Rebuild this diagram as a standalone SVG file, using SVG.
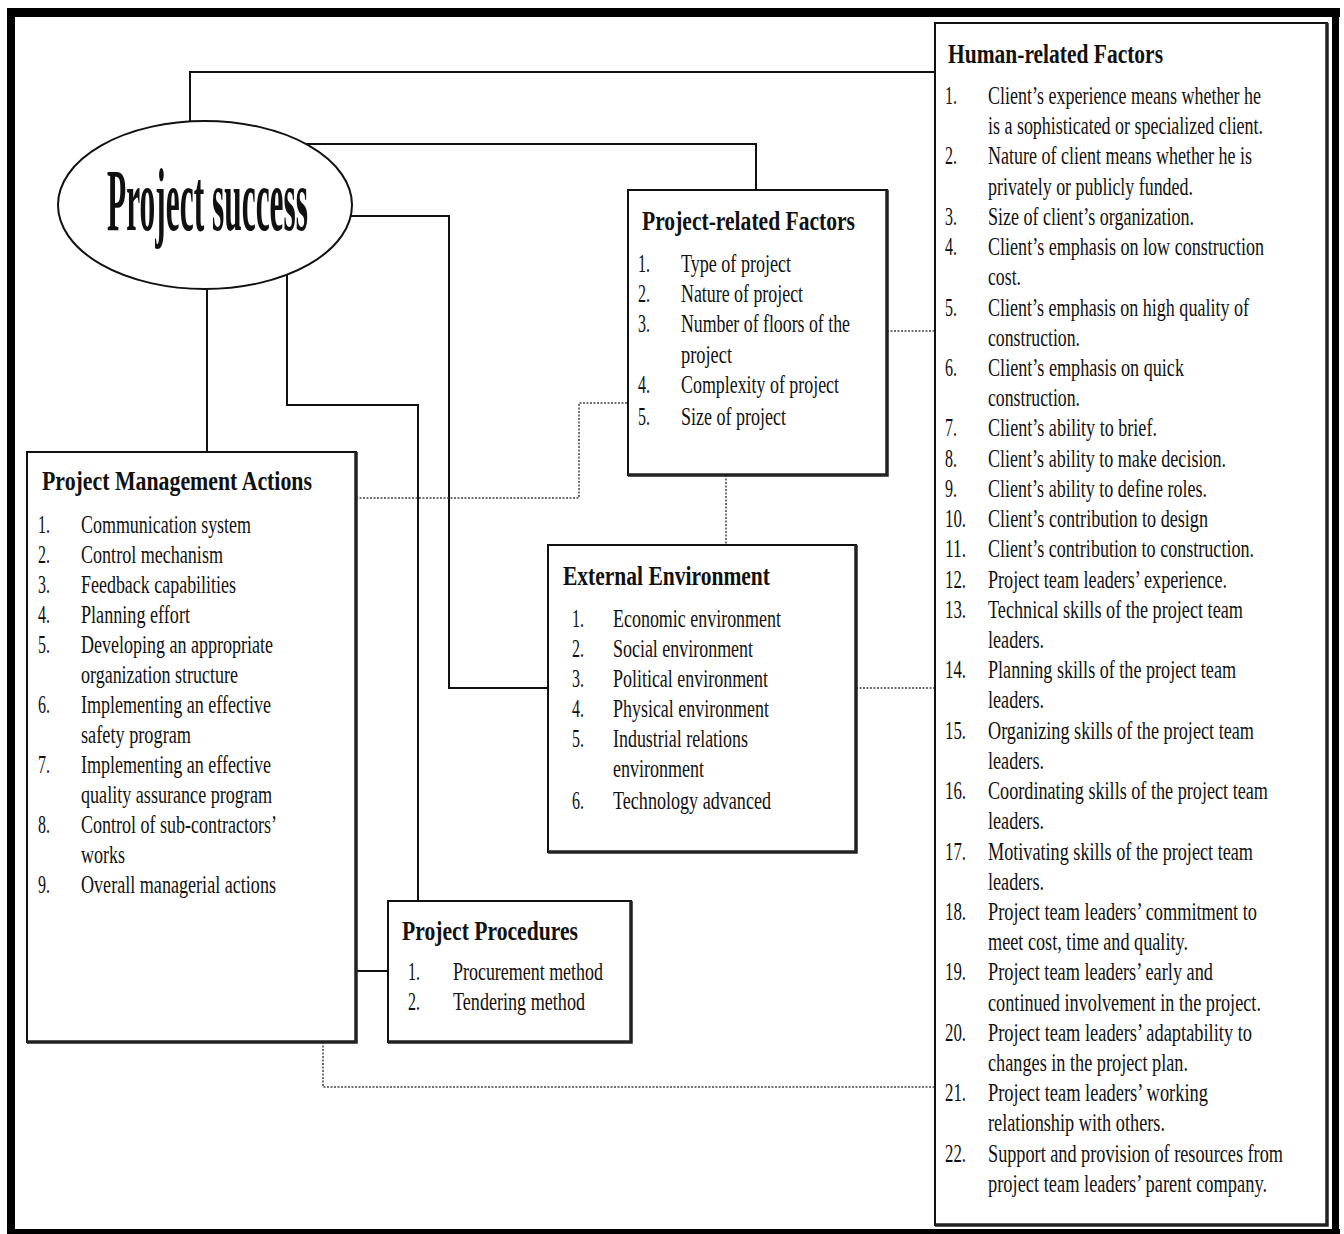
<svg xmlns="http://www.w3.org/2000/svg" width="1344" height="1234" viewBox="0 0 1344 1234">
<style>
.t{font-family:"Liberation Serif","Times New Roman",serif;font-size:25px;fill:#111}
.h{font-weight:bold;font-size:27px}
.box{fill:#fff;stroke:#111;stroke-width:2}
.sh{fill:none;stroke:#222;stroke-width:3.5}
.conn{fill:none;stroke:#111;stroke-width:2}
.dot{fill:none;stroke:#444;stroke-width:1.5;stroke-dasharray:2 1.5}
.frame{fill:#000}
</style>
<rect width="1344" height="1234" fill="#fff"/>
<g id="frame">
<rect class="frame" x="7" y="8" width="1333" height="9"/>
<rect class="frame" x="7" y="8" width="8" height="1226"/>
<rect class="frame" x="1332" y="8" width="7" height="1226"/>
<rect class="frame" x="7" y="1229" width="1333" height="5"/>
</g>
<g id="connectors">
<polyline class="conn" points="190,121 190,72 935,72"/>
<polyline class="conn" points="305,144 756,144 756,190"/>
<polyline class="conn" points="350,216 449,216 449,688 548,688"/>
<polyline class="conn" points="287,275 287,405 418,405 418,901"/>
<line class="conn" x1="207" y1="289" x2="207" y2="452"/>
<line class="conn" x1="356" y1="971" x2="388" y2="971"/>
<polyline class="dot" points="356,498 579,498 579,403 628,403"/>
<line class="dot" x1="726" y1="475" x2="726" y2="545"/>
<line class="dot" x1="887" y1="331" x2="935" y2="331"/>
<line class="dot" x1="856" y1="688" x2="935" y2="688"/>
<polyline class="dot" points="323,1042 323,1087 935,1087"/>
</g>
<g id="project-success">
<ellipse cx="205" cy="205" rx="147" ry="84" fill="#fff" stroke="#111" stroke-width="2"/>
<g transform="translate(107 0) scale(0.4 1)">
<text class="t h" x="0" y="230" style="font-size:88px" textLength="502.5" lengthAdjust="spacingAndGlyphs">Project success</text>
</g>
</g>
<g id="human-related-factors">
<rect class="box" x="935" y="23" width="392" height="1202"/>
<path class="sh" d="M935,1225 H1327 V23"/>
<g transform="translate(948 0) scale(0.8 1)">
<text class="t h" x="0" y="63" textLength="268.75" lengthAdjust="spacingAndGlyphs">Human-related Factors</text>
</g>
<g class="t" transform="translate(945 0) scale(0.75 1)">
<text x="0" y="104" textLength="16" lengthAdjust="spacingAndGlyphs">1.</text><text x="57.33" y="104" textLength="364" lengthAdjust="spacingAndGlyphs">Client’s experience means whether he</text>
<text x="57.33" y="134" textLength="366.7" lengthAdjust="spacingAndGlyphs">is a sophisticated or specialized client.</text>
<text x="0" y="164" textLength="16" lengthAdjust="spacingAndGlyphs">2.</text><text x="57.33" y="164" textLength="352" lengthAdjust="spacingAndGlyphs">Nature of client means whether he is</text>
<text x="57.33" y="195" textLength="273.3" lengthAdjust="spacingAndGlyphs">privately or publicly funded.</text>
<text x="0" y="225" textLength="16" lengthAdjust="spacingAndGlyphs">3.</text><text x="57.33" y="225" textLength="274.7" lengthAdjust="spacingAndGlyphs">Size of client’s organization.</text>
<text x="0" y="255" textLength="16" lengthAdjust="spacingAndGlyphs">4.</text><text x="57.33" y="255" textLength="368" lengthAdjust="spacingAndGlyphs">Client’s emphasis on low construction</text>
<text x="57.33" y="285" textLength="44" lengthAdjust="spacingAndGlyphs">cost.</text>
<text x="0" y="316" textLength="16" lengthAdjust="spacingAndGlyphs">5.</text><text x="57.33" y="316" textLength="348" lengthAdjust="spacingAndGlyphs">Client’s emphasis on high quality of</text>
<text x="57.33" y="346" textLength="122.7" lengthAdjust="spacingAndGlyphs">construction.</text>
<text x="0" y="376" textLength="16" lengthAdjust="spacingAndGlyphs">6.</text><text x="57.33" y="376" textLength="261.3" lengthAdjust="spacingAndGlyphs">Client’s emphasis on quick</text>
<text x="57.33" y="406" textLength="122.7" lengthAdjust="spacingAndGlyphs">construction.</text>
<text x="0" y="436" textLength="16" lengthAdjust="spacingAndGlyphs">7.</text><text x="57.33" y="436" textLength="225.3" lengthAdjust="spacingAndGlyphs">Client’s ability to brief.</text>
<text x="0" y="467" textLength="16" lengthAdjust="spacingAndGlyphs">8.</text><text x="57.33" y="467" textLength="317.3" lengthAdjust="spacingAndGlyphs">Client’s ability to make decision.</text>
<text x="0" y="497" textLength="16" lengthAdjust="spacingAndGlyphs">9.</text><text x="57.33" y="497" textLength="292" lengthAdjust="spacingAndGlyphs">Client’s ability to define roles.</text>
<text x="0" y="527" textLength="28" lengthAdjust="spacingAndGlyphs">10.</text><text x="57.33" y="527" textLength="293.3" lengthAdjust="spacingAndGlyphs">Client’s contribution to design</text>
<text x="0" y="557" textLength="28" lengthAdjust="spacingAndGlyphs">11.</text><text x="57.33" y="557" textLength="354.7" lengthAdjust="spacingAndGlyphs">Client’s contribution to construction.</text>
<text x="0" y="588" textLength="28" lengthAdjust="spacingAndGlyphs">12.</text><text x="57.33" y="588" textLength="318.7" lengthAdjust="spacingAndGlyphs">Project team leaders’ experience.</text>
<text x="0" y="618" textLength="28" lengthAdjust="spacingAndGlyphs">13.</text><text x="57.33" y="618" textLength="340" lengthAdjust="spacingAndGlyphs">Technical skills of the project team</text>
<text x="57.33" y="648" textLength="74.7" lengthAdjust="spacingAndGlyphs">leaders.</text>
<text x="0" y="678" textLength="28" lengthAdjust="spacingAndGlyphs">14.</text><text x="57.33" y="678" textLength="330.7" lengthAdjust="spacingAndGlyphs">Planning skills of the project team</text>
<text x="57.33" y="708" textLength="74.7" lengthAdjust="spacingAndGlyphs">leaders.</text>
<text x="0" y="739" textLength="28" lengthAdjust="spacingAndGlyphs">15.</text><text x="57.33" y="739" textLength="354.7" lengthAdjust="spacingAndGlyphs">Organizing skills of the project team</text>
<text x="57.33" y="769" textLength="74.7" lengthAdjust="spacingAndGlyphs">leaders.</text>
<text x="0" y="799" textLength="28" lengthAdjust="spacingAndGlyphs">16.</text><text x="57.33" y="799" textLength="373.3" lengthAdjust="spacingAndGlyphs">Coordinating skills of the project team</text>
<text x="57.33" y="829" textLength="74.7" lengthAdjust="spacingAndGlyphs">leaders.</text>
<text x="0" y="860" textLength="28" lengthAdjust="spacingAndGlyphs">17.</text><text x="57.33" y="860" textLength="353.3" lengthAdjust="spacingAndGlyphs">Motivating skills of the project team</text>
<text x="57.33" y="890" textLength="74.7" lengthAdjust="spacingAndGlyphs">leaders.</text>
<text x="0" y="920" textLength="28" lengthAdjust="spacingAndGlyphs">18.</text><text x="57.33" y="920" textLength="358.7" lengthAdjust="spacingAndGlyphs">Project team leaders’ commitment to</text>
<text x="57.33" y="950" textLength="266.7" lengthAdjust="spacingAndGlyphs">meet cost, time and quality.</text>
<text x="0" y="980" textLength="28" lengthAdjust="spacingAndGlyphs">19.</text><text x="57.33" y="980" textLength="300" lengthAdjust="spacingAndGlyphs">Project team leaders’ early and</text>
<text x="57.33" y="1011" textLength="364" lengthAdjust="spacingAndGlyphs">continued involvement in the project.</text>
<text x="0" y="1041" textLength="28" lengthAdjust="spacingAndGlyphs">20.</text><text x="57.33" y="1041" textLength="352" lengthAdjust="spacingAndGlyphs">Project team leaders’ adaptability to</text>
<text x="57.33" y="1071" textLength="266.7" lengthAdjust="spacingAndGlyphs">changes in the project plan.</text>
<text x="0" y="1101" textLength="28" lengthAdjust="spacingAndGlyphs">21.</text><text x="57.33" y="1101" textLength="293.3" lengthAdjust="spacingAndGlyphs">Project team leaders’ working</text>
<text x="57.33" y="1131" textLength="236" lengthAdjust="spacingAndGlyphs">relationship with others.</text>
<text x="0" y="1162" textLength="28" lengthAdjust="spacingAndGlyphs">22.</text><text x="57.33" y="1162" textLength="393.3" lengthAdjust="spacingAndGlyphs">Support and provision of resources from</text>
<text x="57.33" y="1192" textLength="372" lengthAdjust="spacingAndGlyphs">project team leaders’ parent company.</text>
</g>
</g>
<g id="project-related-factors">
<rect class="box" x="628" y="190" width="259" height="285"/>
<path class="sh" d="M628,475 H887 V190"/>
<g transform="translate(642 0) scale(0.8 1)">
<text class="t h" x="0" y="230" textLength="266.25" lengthAdjust="spacingAndGlyphs">Project-related Factors</text>
</g>
<g class="t" transform="translate(638 0) scale(0.75 1)">
<text x="0" y="272" textLength="16" lengthAdjust="spacingAndGlyphs">1.</text><text x="57.33" y="272" textLength="146.7" lengthAdjust="spacingAndGlyphs">Type of project</text>
<text x="0" y="302" textLength="16" lengthAdjust="spacingAndGlyphs">2.</text><text x="57.33" y="302" textLength="162.7" lengthAdjust="spacingAndGlyphs">Nature of project</text>
<text x="0" y="332" textLength="16" lengthAdjust="spacingAndGlyphs">3.</text><text x="57.33" y="332" textLength="225.3" lengthAdjust="spacingAndGlyphs">Number of floors of the</text>
<text x="57.33" y="363" textLength="68" lengthAdjust="spacingAndGlyphs">project</text>
<text x="0" y="393" textLength="16" lengthAdjust="spacingAndGlyphs">4.</text><text x="57.33" y="393" textLength="210.7" lengthAdjust="spacingAndGlyphs">Complexity of project</text>
<text x="0" y="425" textLength="16" lengthAdjust="spacingAndGlyphs">5.</text><text x="57.33" y="425" textLength="140" lengthAdjust="spacingAndGlyphs">Size of project</text>
</g>
</g>
<g id="project-management-actions">
<rect class="box" x="27" y="452" width="329" height="590"/>
<path class="sh" d="M27,1042 H356 V452"/>
<g transform="translate(42 0) scale(0.8 1)">
<text class="t h" x="0" y="490" textLength="337.5" lengthAdjust="spacingAndGlyphs">Project Management Actions</text>
</g>
<g class="t" transform="translate(38 0) scale(0.75 1)">
<text x="0" y="533" textLength="16" lengthAdjust="spacingAndGlyphs">1.</text><text x="57.33" y="533" textLength="226.7" lengthAdjust="spacingAndGlyphs">Communication system</text>
<text x="0" y="563" textLength="16" lengthAdjust="spacingAndGlyphs">2.</text><text x="57.33" y="563" textLength="189.3" lengthAdjust="spacingAndGlyphs">Control mechanism</text>
<text x="0" y="593" textLength="16" lengthAdjust="spacingAndGlyphs">3.</text><text x="57.33" y="593" textLength="206.7" lengthAdjust="spacingAndGlyphs">Feedback capabilities</text>
<text x="0" y="623" textLength="16" lengthAdjust="spacingAndGlyphs">4.</text><text x="57.33" y="623" textLength="145.3" lengthAdjust="spacingAndGlyphs">Planning effort</text>
<text x="0" y="653" textLength="16" lengthAdjust="spacingAndGlyphs">5.</text><text x="57.33" y="653" textLength="256" lengthAdjust="spacingAndGlyphs">Developing an appropriate</text>
<text x="57.33" y="683" textLength="209.3" lengthAdjust="spacingAndGlyphs">organization structure</text>
<text x="0" y="713" textLength="16" lengthAdjust="spacingAndGlyphs">6.</text><text x="57.33" y="713" textLength="253.3" lengthAdjust="spacingAndGlyphs">Implementing an effective</text>
<text x="57.33" y="743" textLength="146.7" lengthAdjust="spacingAndGlyphs">safety program</text>
<text x="0" y="773" textLength="16" lengthAdjust="spacingAndGlyphs">7.</text><text x="57.33" y="773" textLength="253.3" lengthAdjust="spacingAndGlyphs">Implementing an effective</text>
<text x="57.33" y="803" textLength="254.7" lengthAdjust="spacingAndGlyphs">quality assurance program</text>
<text x="0" y="833" textLength="16" lengthAdjust="spacingAndGlyphs">8.</text><text x="57.33" y="833" textLength="261.3" lengthAdjust="spacingAndGlyphs">Control of sub-contractors’</text>
<text x="57.33" y="863" textLength="58.7" lengthAdjust="spacingAndGlyphs">works</text>
<text x="0" y="893" textLength="16" lengthAdjust="spacingAndGlyphs">9.</text><text x="57.33" y="893" textLength="260" lengthAdjust="spacingAndGlyphs">Overall managerial actions</text>
</g>
</g>
<g id="external-environment">
<rect class="box" x="548" y="545" width="308" height="307"/>
<path class="sh" d="M548,852 H856 V545"/>
<g transform="translate(563 0) scale(0.8 1)">
<text class="t h" x="0" y="585" textLength="258.75" lengthAdjust="spacingAndGlyphs">External Environment</text>
</g>
<g class="t" transform="translate(572 0) scale(0.75 1)">
<text x="0" y="627" textLength="16" lengthAdjust="spacingAndGlyphs">1.</text><text x="54.67" y="627" textLength="224" lengthAdjust="spacingAndGlyphs">Economic environment</text>
<text x="0" y="657" textLength="16" lengthAdjust="spacingAndGlyphs">2.</text><text x="54.67" y="657" textLength="186.7" lengthAdjust="spacingAndGlyphs">Social environment</text>
<text x="0" y="687" textLength="16" lengthAdjust="spacingAndGlyphs">3.</text><text x="54.67" y="687" textLength="206.7" lengthAdjust="spacingAndGlyphs">Political environment</text>
<text x="0" y="717" textLength="16" lengthAdjust="spacingAndGlyphs">4.</text><text x="54.67" y="717" textLength="208" lengthAdjust="spacingAndGlyphs">Physical environment</text>
<text x="0" y="747" textLength="16" lengthAdjust="spacingAndGlyphs">5.</text><text x="54.67" y="747" textLength="180" lengthAdjust="spacingAndGlyphs">Industrial relations</text>
<text x="54.67" y="777" textLength="121.3" lengthAdjust="spacingAndGlyphs">environment</text>
<text x="0" y="809" textLength="16" lengthAdjust="spacingAndGlyphs">6.</text><text x="54.67" y="809" textLength="210.7" lengthAdjust="spacingAndGlyphs">Technology advanced</text>
</g>
</g>
<g id="project-procedures">
<rect class="box" x="388" y="901" width="243" height="141"/>
<path class="sh" d="M388,1042 H631 V901"/>
<g transform="translate(402 0) scale(0.8 1)">
<text class="t h" x="0" y="940" textLength="220" lengthAdjust="spacingAndGlyphs">Project Procedures</text>
</g>
<g class="t" transform="translate(408 0) scale(0.75 1)">
<text x="0" y="980" textLength="16" lengthAdjust="spacingAndGlyphs">1.</text><text x="60" y="980" textLength="200" lengthAdjust="spacingAndGlyphs">Procurement method</text>
<text x="0" y="1010" textLength="16" lengthAdjust="spacingAndGlyphs">2.</text><text x="60" y="1010" textLength="176" lengthAdjust="spacingAndGlyphs">Tendering method</text>
</g>
</g>
</svg>
